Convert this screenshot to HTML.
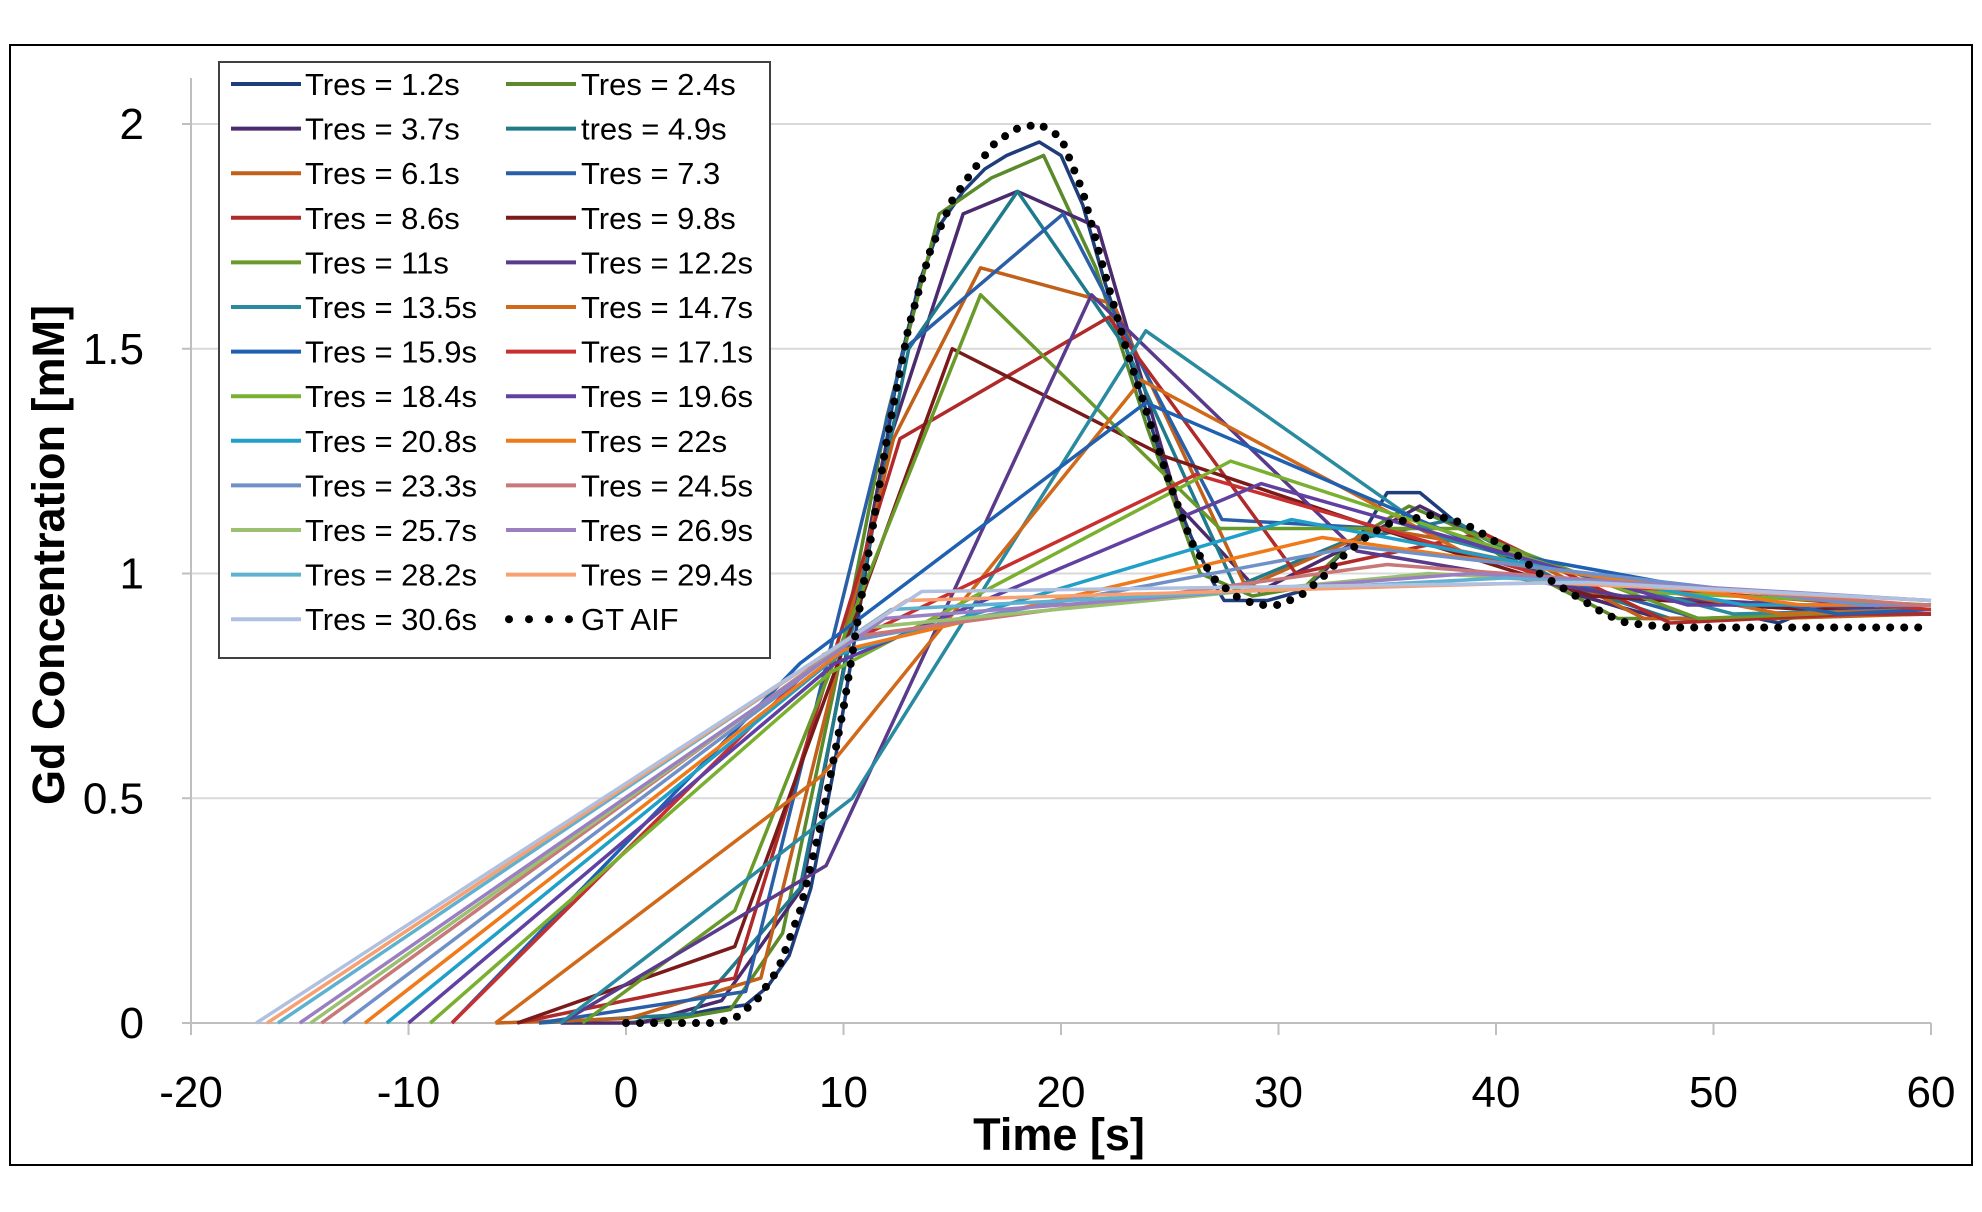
<!DOCTYPE html>
<html><head><meta charset="utf-8"><style>
html,body{margin:0;padding:0;background:#fff;}
svg{display:block;font-family:"Liberation Sans",sans-serif;}
</style></head><body>
<svg id="chart" width="1982" height="1212" viewBox="0 0 1982 1212">
<rect x="10" y="45" width="1962" height="1120" fill="#fff" stroke="#000" stroke-width="2"/>
<g id="grid"></g>
<g id="axes"></g>
<g id="series"></g>
<g id="legend"></g>
<text x="1059" y="1150" text-anchor="middle" font-size="45" font-weight="bold">Time [s]</text>
<text transform="translate(64,555) rotate(-90)" text-anchor="middle" font-size="45" font-weight="bold">Gd Concentration [mM]</text>
</svg>
<script>
const xTicks = [-20,-10,0,10,20,30,40,50,60];
const yTicks = [0,0.5,1,1.5,2];
const seriesNames = ["Tres = 1.2s","Tres = 2.4s","Tres = 3.7s","tres = 4.9s","Tres = 6.1s","Tres = 7.3","Tres = 8.6s","Tres = 9.8s","Tres = 11s","Tres = 12.2s","Tres = 13.5s","Tres = 14.7s","Tres = 15.9s","Tres = 17.1s","Tres = 18.4s","Tres = 19.6s","Tres = 20.8s","Tres = 22s","Tres = 23.3s","Tres = 24.5s","Tres = 25.7s","Tres = 26.9s","Tres = 28.2s","Tres = 29.4s","Tres = 30.6s"];
const seriesColors = ["#1f3d7a","#5a8a2a","#4b2a6e","#1f7a8c","#c0601a","#2a5fa8","#b02a2a","#7a1a1a","#6a9a2a","#5a3a8a","#2a8aa0","#d06a1a","#2060b0","#c83030","#7ab030","#6040a0","#20a0c8","#f07a1a","#7090c8","#c87878","#9ac070","#9a80c0","#60b0d0","#f8a070","#b0c0e0"];
const s01=[[0,0],[2,0.01],[4,0.03],[5.5,0.04],[6.5,0.08],[7.5,0.15],[8.5,0.3],[9.5,0.55],[10.5,0.85],[11.5,1.15],[12.5,1.45],[13.5,1.65],[14.5,1.78],[15.5,1.85],[16.5,1.9],[17.5,1.93],[19,1.96],[20,1.93],[21,1.82],[22,1.65],[23,1.5],[24,1.35],[25,1.2],[26,1.08],[27,0.98],[27.5,0.94],[29.5,0.94],[31,0.96],[32,1.0],[33,1.05],[34,1.1],[35,1.18],[36.5,1.18],[38,1.12],[39,1.08],[40,1.05],[42,1.0],[44,0.95],[46,0.92],[48,0.9],[52,0.9],[53,0.89],[54,0.91],[60,0.91]];
const s02=[[0,0],[2.4,0.01],[4.8,0.03],[7.2,0.2],[9.6,0.75],[12,1.35],[14.4,1.8],[16.8,1.88],[19.2,1.93],[21.6,1.68],[24,1.32],[26.4,1.0],[28.8,0.95],[31.2,0.97],[33.6,1.08],[36,1.15],[38.4,1.1],[40.8,1.02],[43.2,0.96],[45.6,0.9],[48,0.9],[50.4,0.9],[52.8,0.91],[60,0.91]];
const s03=[[-3,0],[0.7,0],[4.4,0.05],[8.1,0.3],[11.8,1.25],[15.5,1.8],[18,1.85],[21.7,1.77],[25.4,1.15],[29.1,0.96],[32.8,1.05],[36.5,1.15],[40.2,1.06],[43.9,0.95],[47.6,0.9],[51.3,0.9],[55,0.91],[60,0.91]];
const s04=[[-4,0],[3,0.02],[8,0.3],[13,1.5],[18,1.85],[23,1.5],[28,0.97],[33,1.07],[38,1.12],[43,0.98],[48,0.9],[53,0.9],[58,0.91],[60,0.91]];
const s05=[[-6,0],[0.1,0.01],[6.2,0.1],[12.3,1.3],[16.3,1.68],[22.4,1.6],[28.5,0.97],[34.6,1.1],[40.7,1.05],[46.8,0.9],[52.9,0.9],[60,0.91]];
const s06=[[-4,0],[5.5,0.07],[12.8,1.5],[20.1,1.8],[27.4,1.12],[34.7,1.1],[42,1.0],[49.3,0.9],[56.6,0.91],[60,0.91]];
const s07=[[-5,0],[5,0.1],[12.6,1.3],[22.2,1.57],[30.8,1.0],[39.4,1.09],[48,0.89],[56.6,0.91],[60,0.91]];
const s08=[[-5,0],[5,0.17],[15,1.5],[24.8,1.26],[34.6,1.1],[44.4,0.95],[54.2,0.92],[60,0.92]];
const s09=[[-2,0],[5,0.25],[16.3,1.62],[27.3,1.1],[38.3,1.1],[49.3,0.9],[60,0.92]];
const s10=[[-3,0],[9.2,0.35],[21.4,1.62],[33.6,1.05],[45.8,0.95],[58,0.92],[60,0.92]];
const s11=[[-3,0],[10.4,0.5],[23.9,1.54],[37.4,1.08],[50.9,0.91],[60,0.92]];
const s12=[[-6,0],[9,0.55],[23.7,1.43],[38.4,1.05],[53.1,0.91],[60,0.92]];
const s13=[[-8,0],[8,0.8],[23.9,1.38],[39.8,1.05],[55.7,0.91],[60,0.92]];
const s14=[[-8,0],[9.1,0.82],[26.2,1.22],[43.3,0.98],[60,0.92]];
const s15=[[-9,0],[9.4,0.78],[27.8,1.25],[46.2,0.96],[60,0.93]];
const s16=[[-10,0],[9.6,0.8],[29.2,1.2],[48.8,0.93],[60,0.93]];
const s17=[[-11,0],[9.8,0.82],[30.6,1.12],[51.4,0.93],[60,0.93]];
const s18=[[-12,0],[10,0.83],[32,1.08],[54,0.93],[60,0.93]];
const s19=[[-13,0],[10.3,0.85],[33.6,1.06],[56.9,0.93],[60,0.93]];
const s20=[[-14,0],[10.5,0.86],[35,1.02],[59.5,0.93],[60,0.93]];
const s21=[[-14.5,0],[11.2,0.88],[36.9,1.0],[60,0.94]];
const s22=[[-15,0],[11.9,0.9],[38.8,1.0],[60,0.94]];
const s23=[[-16,0],[12.2,0.92],[40.4,0.99],[60,0.94]];
const s24=[[-16.5,0],[12.9,0.94],[42.3,0.98],[60,0.94]];
const s25=[[-17,0],[13.6,0.96],[44.2,0.98],[60,0.94]];
const gtTimes=[0,1,2,3,4,5,6,7,8,9,10,11,12,13,14,15,16,17,18,19,20,21,22,23,24,25,26,27,28,29,30,31,32,33,34,35,36,37,38,39,40,41,42,43,44,45,46,47,48,50,52,54,56,58,60];
const gtValues=[0,0,0,0,0,0.01,0.05,0.12,0.25,0.45,0.7,1.0,1.3,1.55,1.72,1.83,1.9,1.96,1.99,2.0,1.97,1.85,1.67,1.5,1.35,1.2,1.07,0.99,0.95,0.93,0.93,0.95,0.99,1.04,1.08,1.11,1.12,1.13,1.12,1.1,1.07,1.04,1.0,0.97,0.94,0.91,0.89,0.885,0.88,0.88,0.88,0.88,0.88,0.88,0.88];
const seriesData=[s01,s02,s03,s04,s05,s06,s07,s08,s09,s10,s11,s12,s13,s14,s15,s16,s17,s18,s19,s20,s21,s22,s23,s24,s25];

const NS="http://www.w3.org/2000/svg";
const X0=191,X1=1931,Y0=1023,Y1=124;
function xs(t){return X0+(t+20)/80*(X1-X0);}
function ys(v){return Y0-v/2*(Y0-Y1);}
function mk(tag,attrs,parent){const e=document.createElementNS(NS,tag);for(const k in attrs)e.setAttribute(k,attrs[k]);parent.appendChild(e);return e;}
const grid=document.getElementById('grid'),axes=document.getElementById('axes'),ser=document.getElementById('series'),leg=document.getElementById('legend');
yTicks.forEach(v=>{
  if(v>0){const l=mk('line',{x1:X0,x2:X1,y1:ys(v),y2:ys(v),stroke:'#d9d9d9','stroke-width':2},grid);
  
  }
  const tk=mk('line',{x1:X0-9,x2:X0,y1:ys(v),y2:ys(v),stroke:'#bfbfbf','stroke-width':2},axes);
  
  
  const t=mk('text',{x:144,y:ys(v)+15,'text-anchor':'end','font-size':44},axes);
  t.textContent=String(v);
  
  
});
const ya=mk('line',{x1:X0,x2:X0,y1:78,y2:Y0,stroke:'#bfbfbf','stroke-width':2},axes);


const xa=mk('line',{x1:X0,x2:X1,y1:Y0,y2:Y0,stroke:'#bfbfbf','stroke-width':2},axes);


xTicks.forEach(v=>{
  const tk=mk('line',{x1:xs(v),x2:xs(v),y1:Y0,y2:Y0+12,stroke:'#bfbfbf','stroke-width':2},axes);
  
  
  const t=mk('text',{x:xs(v),y:1107,'text-anchor':'middle','font-size':44},axes);
  t.textContent=String(v);
  
  
});
seriesData.forEach((d,i)=>{
  const p=mk('polyline',{points:d.map(q=>xs(q[0])+','+ys(q[1])).join(' '),fill:'none',stroke:seriesColors[i],'stroke-width':3.5,'stroke-linejoin':'round'},ser);
  
  
});
const gt=mk('polyline',{points:gtTimes.map((t,i)=>xs(t)+','+ys(gtValues[i])).join(' '),fill:'none',stroke:'#000','stroke-width':8,'stroke-linecap':'round','stroke-dasharray':'0 14'},ser);


const box=mk('rect',{x:219,y:62,width:551,height:596,fill:'#fff',stroke:'#404040','stroke-width':2},leg);


const allNames=seriesNames.concat(['GT AIF']);
allNames.forEach((n,i)=>{
  const col=i%2,row=Math.floor(i/2);
  const y=84+row*44.6;
  const lx=col?506:231, tx=col?581:305;
  let ln;
  if(i<25){ln=mk('line',{x1:lx,x2:lx+70,y1:y,y2:y,stroke:seriesColors[i],'stroke-width':4},leg);}
  else{ln=mk('line',{x1:lx+3,x2:lx+70,y1:y,y2:y,stroke:'#000','stroke-width':8,'stroke-linecap':'round','stroke-dasharray':'0 20'},leg);}
  
  
  const t=mk('text',{x:tx,y:y+11,'font-size':31},leg);
  t.textContent=n;
  
  
});
</script>
</body></html>
